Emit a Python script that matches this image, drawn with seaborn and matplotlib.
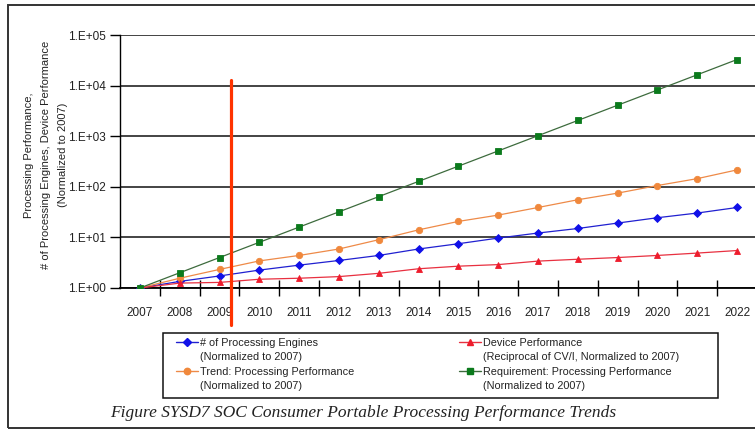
import numpy as np
import pandas as pd
import seaborn as sns
import matplotlib
matplotlib.use("Agg")
import matplotlib.pyplot as plt
from matplotlib.lines import Line2D
from matplotlib.patches import Rectangle
from matplotlib.ticker import FixedLocator, FuncFormatter, NullLocator

# ---- data (normalized to 2007) ----
years = list(range(2007, 2023))
engines = [1, 1.35, 1.73, 2.26, 2.83, 3.5, 4.4, 5.9, 7.5, 9.7, 12.2, 15, 19.2, 24.5, 30.3, 39]
device = [1, 1.25, 1.29, 1.49, 1.56, 1.68, 1.95, 2.4, 2.7, 2.9, 3.4, 3.7, 4.0, 4.4, 4.9, 5.5]
trend = [1, 1.56, 2.33, 3.43, 4.4, 5.9, 9.0, 14.1, 20.7, 27.6, 39, 55.5, 75, 106, 145, 216]
requirement = [1, 2, 4, 8, 16, 32, 64, 128, 256, 512, 1024, 2048, 4096, 8192, 16384, 32768]

series_names = ["engines", "device", "trend", "requirement"]
legend_first = ["# of Processing Engines", "Trend: Processing Performance",
                "Device Performance", "Requirement: Processing Performance"]
legend_second = ["(Normalized to 2007)", "(Normalized to 2007)",
                 "(Reciprocal of CV/I, Normalized to 2007)", "(Normalized to 2007)"]
ytick_values = [1, 10, 100, 1000, 10000, 100000]
marker_year = 2009.29
caption = "Figure SYSD7 SOC Consumer Portable Processing Performance Trends"
ylabel = "Processing Performance,\n# of Processing Engines, Device Performance\n(Normalized to 2007)"

df = pd.DataFrame({"year": years, "engines": engines, "device": device,
                   "trend": trend, "requirement": requirement})

styles = {
    "engines": dict(color="#1010e8", line="#2020d0", marker="D", ms=4.2),
    "device": dict(color="#ee1c2c", line="#e83040", marker="^", ms=5.0),
    "trend": dict(color="#f0883c", line="#ee8a48", marker="o", ms=4.6),
    "requirement": dict(color="#0b7a1c", line="#3d6b3d", marker="s", ms=4.6),
}

sns.set_theme(style="white")
plt.rcParams["font.family"] = ["Liberation Sans", "DejaVu Sans"]
plt.rcParams["text.color"] = "#222222"

W, H = 755, 430
fig = plt.figure(figsize=(W / 100, H / 100), dpi=100, facecolor="white")

# outer frame of the figure panel
fig.add_artist(Rectangle((8 / W, 1 - 428 / H), 800 / W, 423 / H, transform=fig.transFigure,
                         fill=False, ec="#333333", lw=1.4, zorder=0))

ax = fig.add_axes([120 / W, 1 - 288 / H, 637 / W, 253 / H])
ax.set_facecolor("white")

for name in ["engines", "trend", "device", "requirement"]:
    st = styles[name]
    sns.lineplot(data=df, x="year", y=name, ax=ax, color=st["line"], lw=0.9,
                 marker=st["marker"], markersize=st["ms"], markerfacecolor=st["color"],
                 markeredgecolor=st["color"], markeredgewidth=0.6, zorder=3)

ax.set_yscale("log")
ax.set_ylim(1, 1e5)
ax.set_xlim(2006.5, 2022.5)

ax.yaxis.set_major_locator(FixedLocator(ytick_values))
ax.yaxis.set_minor_locator(NullLocator())
ax.yaxis.set_major_formatter(FuncFormatter(lambda v, p: f"1.E+{int(round(np.log10(v))):02d}"))
ax.xaxis.set_major_locator(FixedLocator(years))
ax.xaxis.set_major_formatter(FuncFormatter(lambda v, p: f"{int(round(v))}"))
ax.xaxis.set_minor_locator(FixedLocator([y + 0.5 for y in years[:-1]]))

ax.grid(False)
ax.yaxis.grid(True, which="major", color="#111111", lw=1.1, zorder=1)
ax.set_axisbelow(True)

for s in ["top", "right"]:
    ax.spines[s].set_visible(False)
ax.spines["left"].set_color("black")
ax.spines["left"].set_linewidth(1.0)
ax.spines["bottom"].set_color("black")
ax.spines["bottom"].set_linewidth(1.3)

ax.tick_params(axis="y", which="major", direction="out", length=7, width=1,
               color="black", labelsize=8.5, labelcolor="#222222", pad=3, left=True)
ax.tick_params(axis="x", which="major", length=0, labelsize=8.5, labelcolor="#222222", pad=14)
ax.tick_params(axis="x", which="minor", direction="inout", length=12, width=1,
               color="black", bottom=True)
ax.set_xlabel("")
ax.set_ylabel("")

# vertical marker line
ax.axvline(marker_year, ymin=-0.146, ymax=0.822, color="#ff3300", lw=2.3,
           clip_on=False, zorder=10)

# y-axis title
fig.text(46 / W, 1 - 155 / H, ylabel, rotation=90, ha="center", va="center",
         multialignment="center", fontsize=8, linespacing=1.9, color="#222222")

# legend box
fig.add_artist(Rectangle((163 / W, 1 - 398 / H), 555 / W, 65 / H, transform=fig.transFigure,
                         fc="white", ec="#111111", lw=1.1, zorder=2))

blank = Line2D([], [], linestyle="none")
def handle(name):
    st = styles[name]
    return Line2D([], [], color=st["line"], lw=1.0, marker=st["marker"], markersize=st["ms"],
                  markerfacecolor=st["color"], markeredgecolor=st["color"])

handles = [handle("engines"), blank, handle("trend"), blank,
           handle("device"), blank, handle("requirement"), blank]
labels = [legend_first[0], legend_second[0], legend_first[1], legend_second[1],
          legend_first[2], legend_second[2], legend_first[3], legend_second[3]]
leg = fig.legend(handles, labels, ncol=2, mode="expand", frameon=False,
                 loc="upper left", bbox_to_anchor=(176 / W, 1 - 342 / H, 503 / W, 0.01),
                 bbox_transform=fig.transFigure, borderpad=0, borderaxespad=0,
                 fontsize=7.8, handlelength=2.0, handletextpad=0.2, labelspacing=0.42,
                 columnspacing=1.0)
leg.set_zorder(3)
for t in leg.get_texts():
    t.set_color("#222222")

# caption
fig.text(110 / W, 1 - 413 / H, caption, ha="left", va="center", fontsize=12.5,
         family=["Liberation Serif", "DejaVu Serif"], style="italic", color="#222222")

fig.savefig("out.png", dpi=100, facecolor="white")
